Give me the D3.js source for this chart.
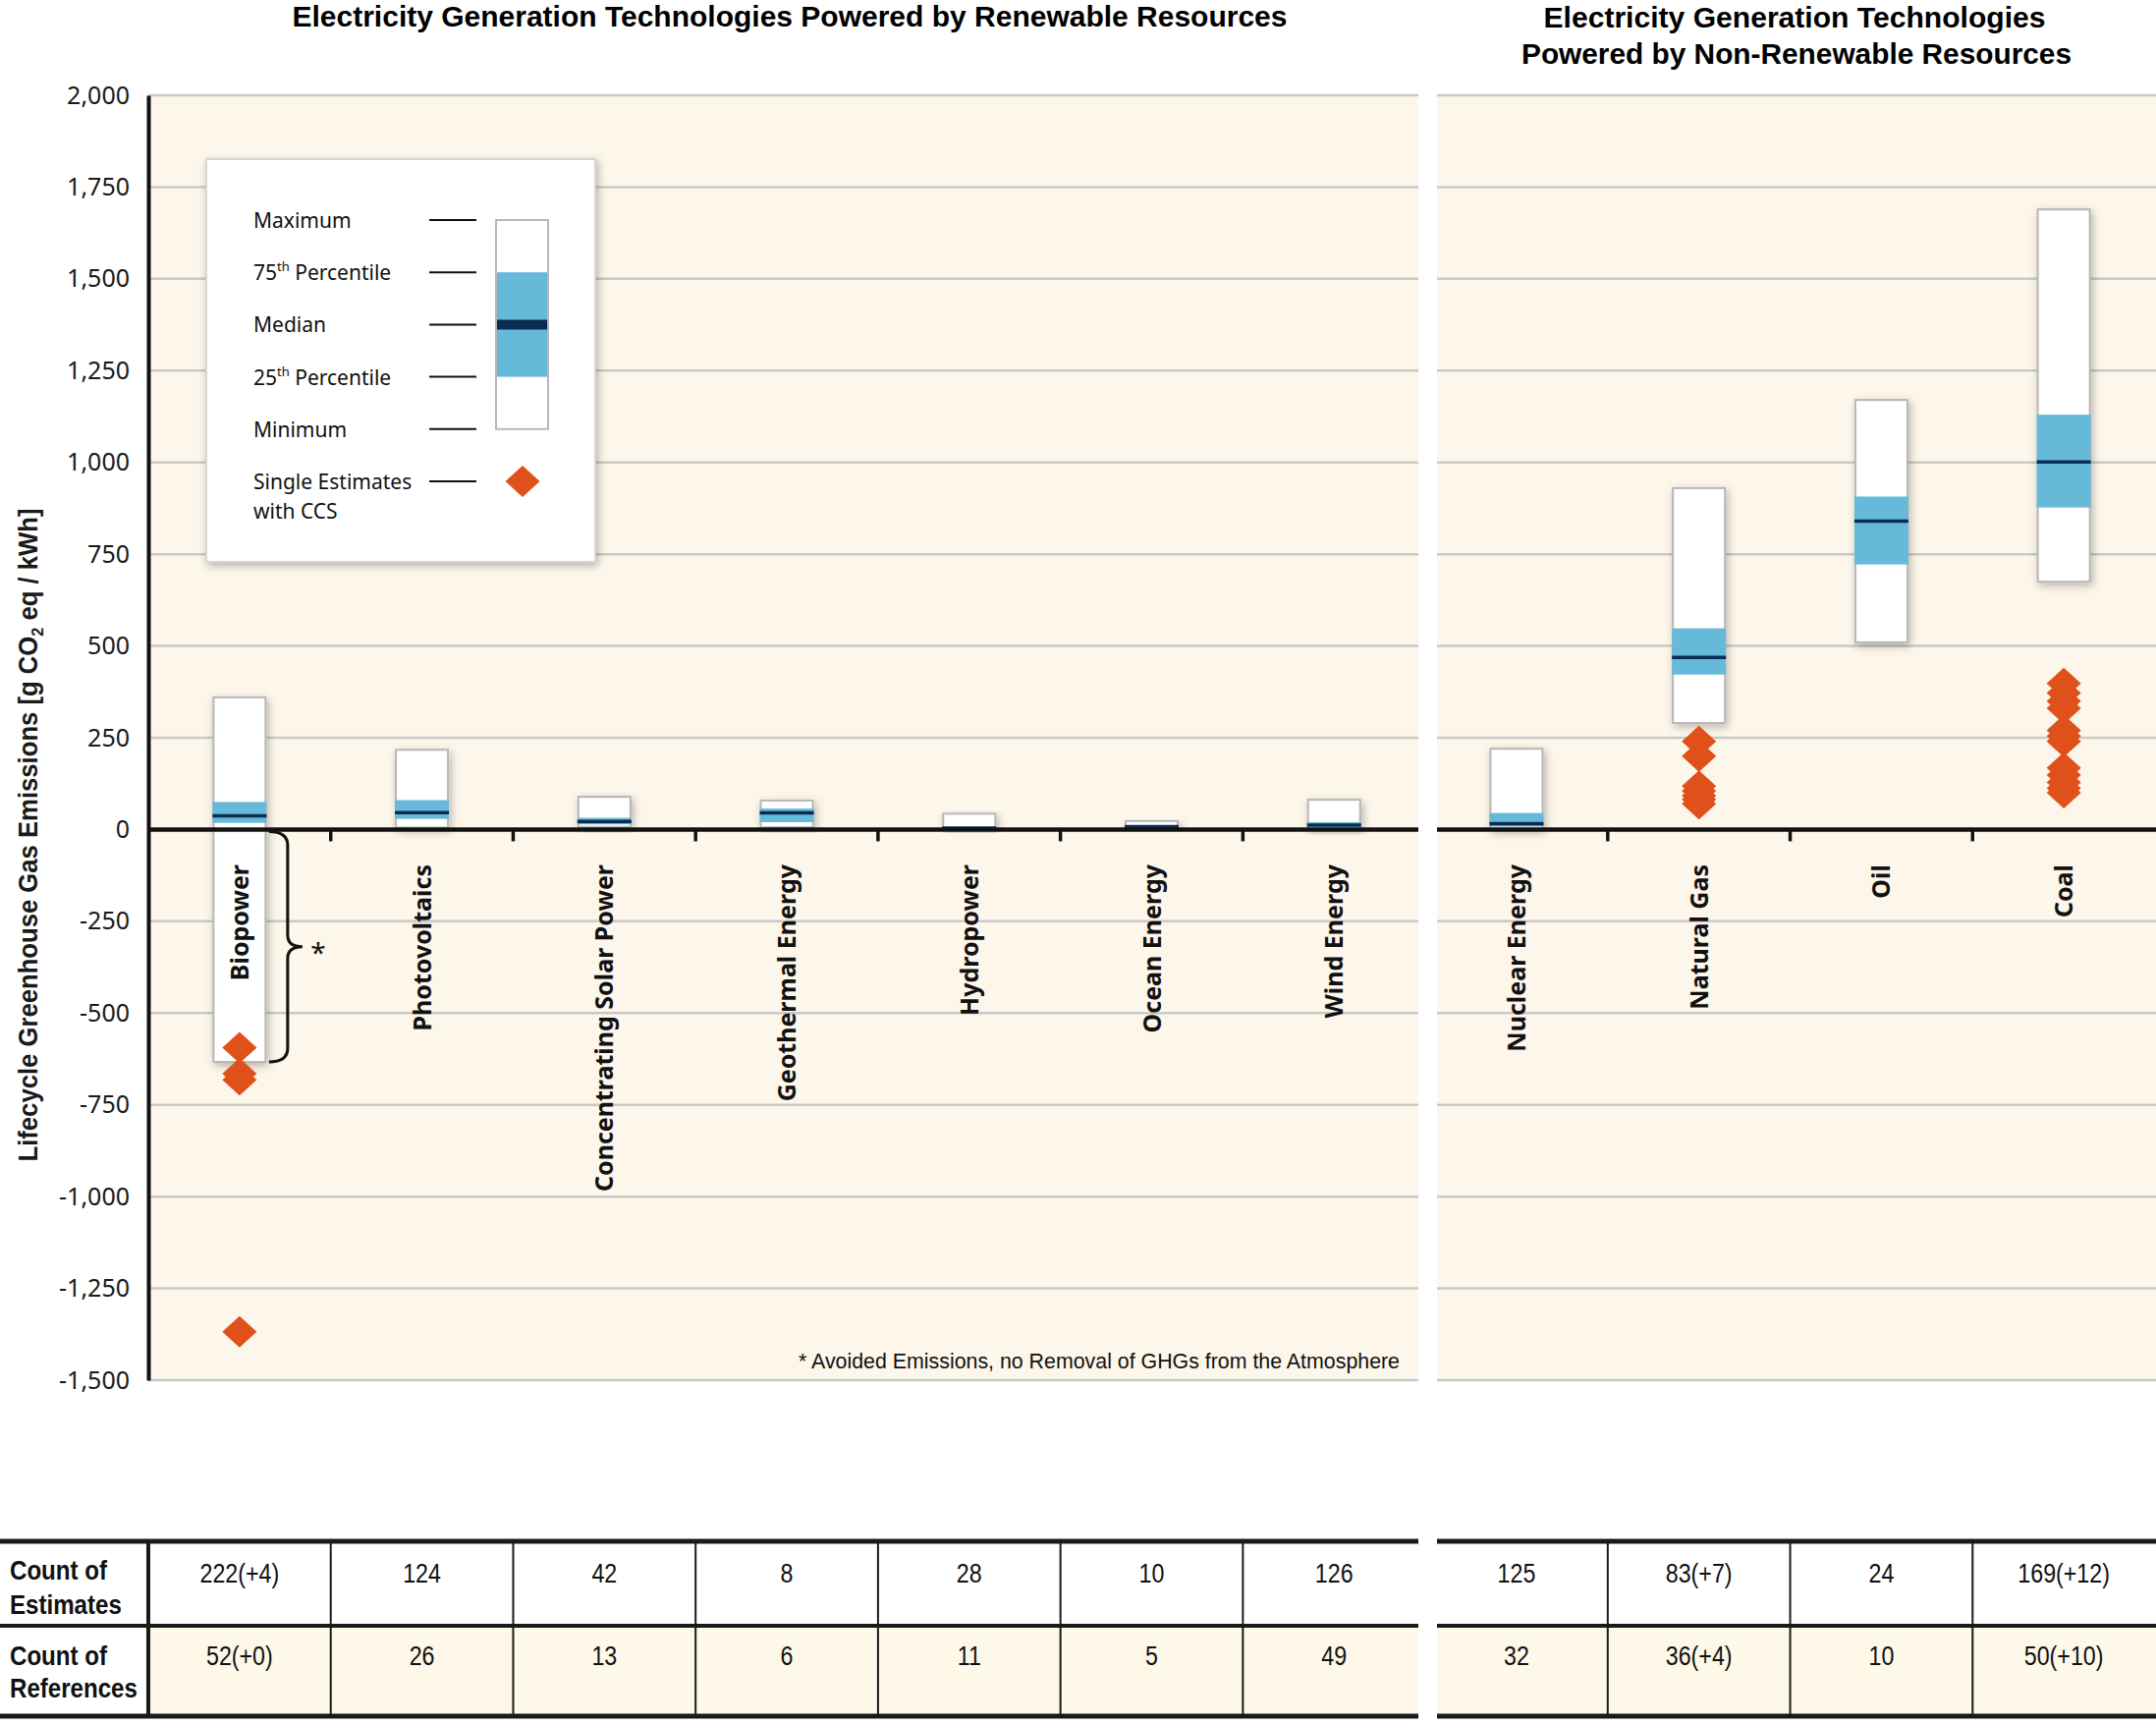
<!DOCTYPE html>
<html>
<head>
<meta charset="utf-8">
<script src="https://cdn.jsdelivr.net/npm/d3@7"></script>
<style>
  body { margin: 0; background: #fff; }
</style>
</head>
<body>
<svg id="chart"></svg>
<script>
// data (g CO2 eq / kWh)
const categories = ["Biopower", "Photovoltaics", "Concentrating Solar Power", "Geothermal Energy",
    "Hydropower", "Ocean Energy", "Wind Energy", "Nuclear Energy", "Natural Gas", "Oil", "Coal"];
const minValues    = [-633,   5,  7,  6,  0,  2,  2,   1, 290,  510,  675];
const q1Values     = [  18,  29, 14, 20,  3,  6,  8,   8, 422,  722,  877];
const medianValues = [  37,  46, 22, 45,  4,  8, 12,  16, 469,  840, 1001];
const q3Values     = [  75,  80, 32, 57,  7,  9, 20,  45, 548,  907, 1130];
const maxValues    = [ 360, 217, 89, 79, 43, 23, 81, 220, 930, 1170, 1689];
// single estimates with CCS
const ccsBiopower = [-594, -665, -682, -1368];
const ccsGas = [240, 200, 118, 105, 92, 82, 70];
const ccsCoal = [398, 372, 350, 330, 270, 255, 240, 168, 148, 128, 112, 100];
const estimateCounts = ["222(+4)", "124", "42", "8", "28", "10", "126", "125", "83(+7)", "24", "169(+12)"];
const referenceCounts = ["52(+0)", "26", "13", "6", "11", "5", "49", "32", "36(+4)", "10", "50(+10)"];
const yTicks = d3.range(-1500, 2001, 250);
const legendLabels = ["Maximum", "75th Percentile", "Median", "25th Percentile", "Minimum", "Single Estimates"];

const W = 2195, H = 1755;
const NORMAL = "'Noto Sans', 'Open Sans', sans-serif";
const NARROW = "'Liberation Sans Narrow', 'Arial Narrow', 'Liberation Sans', sans-serif";
const cream = "#fdf6ea", blue = "#67b9d9", navy = "#0b2c52", orange = "#e0501b", grid = "#c9c9c9";

var svg = d3.select("#chart").attr("width", W).attr("height", H);

// squeeze text horizontally, no condensed font is installed
function condense(sel, f){
    sel.each(function(){
        var len = this.getComputedTextLength();
        d3.select(this).attr("textLength", len * f).attr("lengthAdjust", "spacingAndGlyphs");
    });
}

// shadow for the boxes
var defs = svg.append("defs");
defs.append("filter").attr("id", "shadow")
    .attr("x", "-40%").attr("y", "-20%").attr("width", "180%").attr("height", "140%")
    .append("feDropShadow")
    .attr("dx", 2).attr("dy", 3).attr("stdDeviation", 4)
    .attr("flood-color", "#000").attr("flood-opacity", 0.28);

// scales
var x = d3.scaleBand().domain(categories).range([151, 2194]);
var y = d3.scaleLinear().domain([-1500, 2000]).range([1405, 97]);
var cx = d => x(d) + x.bandwidth() / 2;
var boxW = 53;

var panels = [{x0: 151, x1: 1444}, {x0: 1463, x1: 2195}];

// panel backgrounds
svg.selectAll(".panel").data(panels).enter().append("rect")
    .attr("x", d => d.x0).attr("y", y(2000))
    .attr("width", d => d.x1 - d.x0).attr("height", y(-1500) - y(2000))
    .attr("fill", cream);

// gridlines
panels.forEach(function(p){
    svg.append("g").selectAll("line").data(yTicks).enter().append("line")
        .attr("x1", p.x0).attr("x2", p.x1)
        .attr("y1", d => y(d)).attr("y2", d => y(d))
        .attr("stroke", grid).attr("stroke-width", 2.5);
});

// titles
svg.append("text")
    .attr("x", 804).attr("y", 27)
    .attr("text-anchor", "middle")
    .attr("font-family", NARROW).attr("font-weight", "bold").attr("font-size", 29)
    .attr("textLength", 1013).attr("lengthAdjust", "spacingAndGlyphs")
    .text("Electricity Generation Technologies Powered by Renewable Resources");

svg.append("text")
    .attr("x", 1827).attr("y", 28)
    .attr("text-anchor", "middle")
    .attr("font-family", NARROW).attr("font-weight", "bold").attr("font-size", 29)
    .attr("textLength", 511).attr("lengthAdjust", "spacingAndGlyphs")
    .text("Electricity Generation Technologies");
svg.append("text")
    .attr("x", 1829).attr("y", 65)
    .attr("text-anchor", "middle")
    .attr("font-family", NARROW).attr("font-weight", "bold").attr("font-size", 29)
    .attr("textLength", 560).attr("lengthAdjust", "spacingAndGlyphs")
    .text("Powered by Non-Renewable Resources");

// y axis
var yAxis = d3.axisLeft(y)
    .tickValues(yTicks)
    .tickSize(0)
    .tickPadding(19)
    .tickFormat(d => d3.format(",")(d).replace("\u2212", "-"));

var yAxisGroup = svg.append("g")
    .attr("transform", "translate(151,0)")
    .call(yAxis);
yAxisGroup.select(".domain").attr("stroke", "#111").attr("stroke-width", 4);
yAxisGroup.selectAll("text")
    .attr("font-family", NORMAL).attr("font-size", 25).attr("fill", "#1a1a1a");

// y label
var ylab = svg.append("text")
    .attr("transform", "translate(38,850) rotate(-90)")
    .attr("text-anchor", "middle")
    .attr("font-family", NARROW).attr("font-weight", "bold").attr("font-size", 27)
    .attr("fill", "#1a1a1a")
    .attr("textLength", 665).attr("lengthAdjust", "spacingAndGlyphs");
ylab.append("tspan").text("Lifecycle Greenhouse Gas Emissions [g CO");
ylab.append("tspan").attr("dy", 6).attr("font-size", 17).text("2");
ylab.append("tspan").attr("dy", -6).text(" eq / kWh]");

// boxes
var boxData = categories.map((c, i) => ({
    cat: c, min: minValues[i], q1: q1Values[i], med: medianValues[i], q3: q3Values[i], max: maxValues[i]
}));

var boxes = svg.append("g").selectAll("g").data(boxData).enter().append("g");

boxes.append("rect")
    .attr("x", d => cx(d.cat) - boxW / 2)
    .attr("y", d => y(d.max))
    .attr("width", boxW)
    .attr("height", d => y(d.min) - y(d.max))
    .attr("fill", "#fff")
    .attr("stroke", "#b7b7b7").attr("stroke-width", 2)
    .attr("filter", "url(#shadow)");

boxes.append("rect")
    .attr("x", d => cx(d.cat) - boxW / 2 - 1)
    .attr("y", d => y(d.q3))
    .attr("width", boxW + 2)
    .attr("height", d => y(d.q1) - y(d.q3))
    .attr("fill", blue);

boxes.append("line")
    .attr("x1", d => cx(d.cat) - boxW / 2 - 1)
    .attr("x2", d => cx(d.cat) + boxW / 2 + 1)
    .attr("y1", d => y(d.med)).attr("y2", d => y(d.med))
    .attr("stroke", navy).attr("stroke-width", 3.5);

// zero line with category ticks, drawn over the boxes
panels.forEach(function(p){
    svg.append("line")
        .attr("x1", p.x0).attr("x2", p.x1)
        .attr("y1", y(0)).attr("y2", y(0))
        .attr("stroke", "#111").attr("stroke-width", 4.5);
});
var tickCats = categories.filter((c, i) => i > 0 && i != 7);
svg.append("g").selectAll("line").data(tickCats).enter().append("line")
    .attr("x1", d => x(d)).attr("x2", d => x(d))
    .attr("y1", y(0)).attr("y2", y(0) + 12)
    .attr("stroke", "#111").attr("stroke-width", 3.5);

// category labels
svg.append("g").selectAll("text").data(categories).enter().append("text")
    .attr("transform", d => `translate(${cx(d)},880) rotate(-90)`)
    .attr("text-anchor", "end")
    .attr("dy", "0.36em")
    .attr("font-family", NORMAL).attr("font-weight", "bold").attr("font-size", 25)
    .attr("fill", "#111")
    .text(d => d);

// CCS single estimates
var diamond = "M0,-16L17.5,0L0,16L-17.5,0Z";
var ccsData = [];
ccsBiopower.forEach(v => ccsData.push({cat: "Biopower", v: v}));
ccsGas.forEach(v => ccsData.push({cat: "Natural Gas", v: v}));
ccsCoal.forEach(v => ccsData.push({cat: "Coal", v: v}));

svg.append("g").selectAll("path").data(ccsData).enter().append("path")
    .attr("d", diamond)
    .attr("transform", d => `translate(${cx(d.cat)},${y(d.v)})`)
    .attr("fill", orange);

// brace for avoided emissions
var bx = cx("Biopower") + 49, bt = y(0) + 2, bb = y(minValues[0]), bm = (bt + bb) / 2;
svg.append("path")
    .attr("d", `M${bx - 19},${bt} Q${bx},${bt} ${bx},${bt + 14} L${bx},${bm - 12} Q${bx},${bm} ${bx + 15},${bm}`
        + ` Q${bx},${bm} ${bx},${bm + 12} L${bx},${bb - 14} Q${bx},${bb} ${bx - 19},${bb}`)
    .attr("fill", "none").attr("stroke", "#111").attr("stroke-width", 3);
svg.append("text")
    .attr("x", bx + 31).attr("y", bm + 16)
    .attr("text-anchor", "middle")
    .attr("font-family", NORMAL).attr("font-size", 28).attr("fill", "#111")
    .text("*");

// footnote
svg.append("text")
    .attr("x", 1425).attr("y", 1393)
    .attr("text-anchor", "end")
    .attr("font-family", NARROW).attr("font-size", 22).attr("fill", "#111")
    .attr("textLength", 612).attr("lengthAdjust", "spacingAndGlyphs")
    .text("* Avoided Emissions, no Removal of GHGs from the Atmosphere");

// legend
var lg = svg.append("g");
lg.append("rect")
    .attr("x", 210).attr("y", 162).attr("width", 396).attr("height", 410)
    .attr("fill", "#fff").attr("stroke", "#d6d6d6").attr("stroke-width", 2)
    .attr("filter", "url(#shadow)");

var ly = d3.scalePoint().domain(legendLabels).range([224, 490]);

lg.selectAll(".lline").data(legendLabels).enter().append("line")
    .attr("x1", 437).attr("x2", 485)
    .attr("y1", d => ly(d)).attr("y2", d => ly(d))
    .attr("stroke", "#111").attr("stroke-width", 2);

lg.selectAll(".ltext").data(legendLabels).enter().append("text")
    .attr("x", 258).attr("y", d => ly(d) + 8)
    .attr("font-family", NORMAL).attr("font-size", 21).attr("fill", "#111")
    .each(function(d){
        var t = d3.select(this);
        var m = d.match(/^(\d+)th (.*)$/);
        if (m) {
            t.append("tspan").text(m[1]);
            t.append("tspan").attr("dy", -9).attr("font-size", 13).text("th");
            t.append("tspan").attr("dy", 9).text(" " + m[2]);
        } else {
            t.text(d);
        }
    });
lg.append("text")
    .attr("x", 258).attr("y", ly("Single Estimates") + 38)
    .attr("font-family", NORMAL).attr("font-size", 21).attr("fill", "#111")
    .text("with CCS");

lg.append("rect")
    .attr("x", 505).attr("y", ly("Maximum")).attr("width", 53)
    .attr("height", ly("Minimum") - ly("Maximum"))
    .attr("fill", "#fff").attr("stroke", "#b7b7b7").attr("stroke-width", 2);
lg.append("rect")
    .attr("x", 506).attr("y", ly("75th Percentile")).attr("width", 51)
    .attr("height", ly("25th Percentile") - ly("75th Percentile"))
    .attr("fill", blue);
lg.append("line")
    .attr("x1", 506).attr("x2", 557)
    .attr("y1", ly("Median")).attr("y2", ly("Median"))
    .attr("stroke", navy).attr("stroke-width", 10);
lg.append("path")
    .attr("d", diamond)
    .attr("transform", `translate(532,${ly("Single Estimates")})`)
    .attr("fill", orange);

// table
var tTop = 1569, tMid = 1655, tBot = 1747;
var tableParts = [{x0: 0, x1: 1444}, {x0: 1463, x1: 2195}];

panels.forEach(function(p){
    svg.append("rect")
        .attr("x", p.x0).attr("y", tMid)
        .attr("width", p.x1 - p.x0).attr("height", tBot - tMid)
        .attr("fill", "#fdf8e7");
});

tableParts.forEach(function(p){
    [[tTop, 5], [tMid, 4], [tBot, 5]].forEach(function(r){
        svg.append("line")
            .attr("x1", p.x0).attr("x2", p.x1)
            .attr("y1", r[0]).attr("y2", r[0])
            .attr("stroke", "#1a1a1a").attr("stroke-width", r[1]);
    });
});

svg.append("line")
    .attr("x1", 151).attr("x2", 151).attr("y1", tTop).attr("y2", tBot)
    .attr("stroke", "#1a1a1a").attr("stroke-width", 4);
svg.append("g").selectAll("line").data(tickCats).enter().append("line")
    .attr("x1", d => x(d)).attr("x2", d => x(d))
    .attr("y1", tTop).attr("y2", tBot)
    .attr("stroke", "#1a1a1a").attr("stroke-width", 2);

var headers = svg.append("g").selectAll("text")
    .data([["Count of", 1608], ["Estimates", 1643], ["Count of", 1695], ["References", 1728]])
    .enter().append("text")
    .attr("x", 10).attr("y", d => d[1])
    .attr("font-family", NARROW).attr("font-weight", "bold").attr("font-size", 28)
    .attr("fill", "#111")
    .text(d => d[0]);
condense(headers, 0.86);

var est = svg.append("g").selectAll("text").data(categories).enter().append("text")
    .attr("x", d => cx(d)).attr("y", 1611)
    .attr("text-anchor", "middle")
    .attr("font-family", NARROW).attr("font-size", 27).attr("fill", "#111")
    .text((d, i) => estimateCounts[i]);
condense(est, 0.86);

var refs = svg.append("g").selectAll("text").data(categories).enter().append("text")
    .attr("x", d => cx(d)).attr("y", 1695)
    .attr("text-anchor", "middle")
    .attr("font-family", NARROW).attr("font-size", 27).attr("fill", "#111")
    .text((d, i) => referenceCounts[i]);
condense(refs, 0.86);
</script>
</body>
</html>
